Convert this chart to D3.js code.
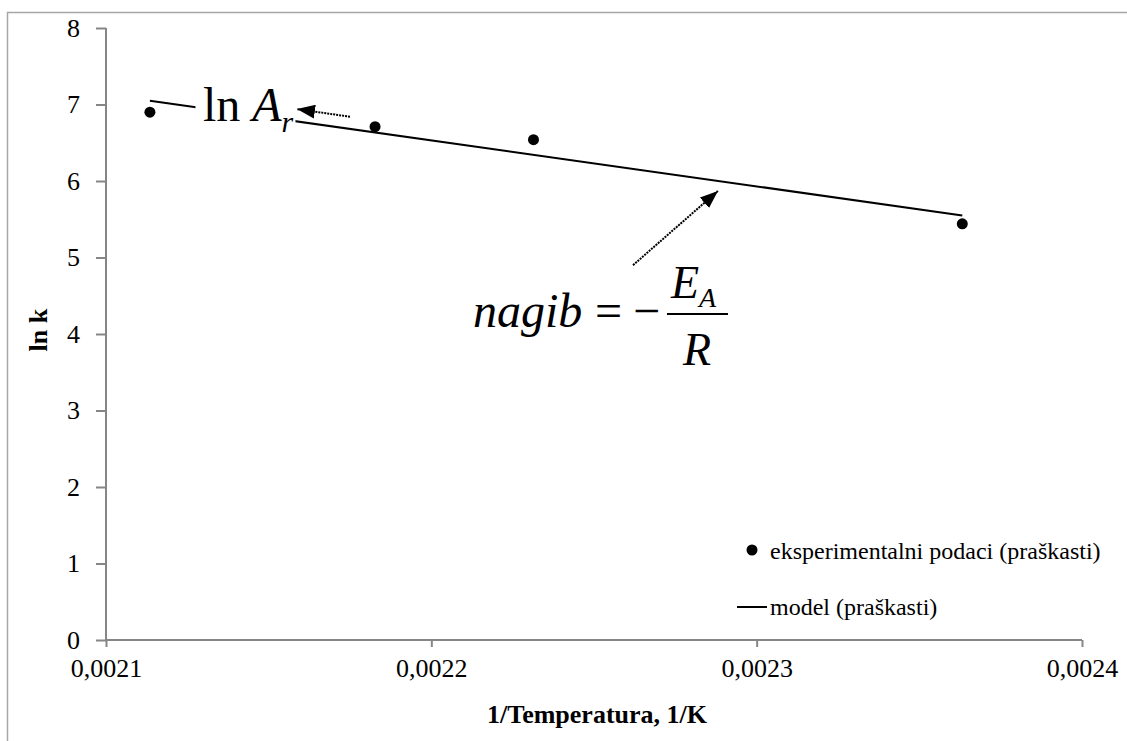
<!DOCTYPE html>
<html lang="en">
<head>
	<meta charset="utf-8">
	<title>ln k vs 1/T</title>
	<script src="https://cdn.jsdelivr.net/npm/d3@7"></script>
	<style>
		body { margin: 0; background: #fff; }
		text { font-family: "Liberation Serif", "DejaVu Serif", serif; fill: #000; }
		.axis path, .axis line { stroke: #868686; stroke-width: 2; }
		.axis text { font-size: 26px; font-family: "Liberation Serif", serif; }
		.title { font-size: 26px; font-weight: bold; }
		.legend { font-size: 24px; }
		.eq { font-style: italic; font-size: 48px; }
	</style>
</head>
<body>
	<div id="chart"></div>

	<script>
		// data
		var invT = [0.0021135, 0.0021827, 0.0022314, 0.0023632];   // 1/K
		var lnk = [6.90, 6.71, 6.54, 5.44];
		var modelX = [0.0021135, 0.0023632];
		var modelY = [7.05, 5.55];
		var xTicks = [0.0021, 0.0022, 0.0023, 0.0024];
		var yTicks = [0, 1, 2, 3, 4, 5, 6, 7, 8];
		var legendLabels = ["eksperimentalni podaci (praškasti)", "model (praškasti)"];

		var w = 1127,
		    h = 741;

		var svg = d3.select("#chart")
			.append("svg")
			.attr("width", w)
			.attr("height", h);

		var defs = svg.append("defs");
		defs.append("marker")
			.attr("id", "head")
			.attr("viewBox", "0 0 18 14")
			.attr("refX", 18).attr("refY", 7)
			.attr("markerWidth", 18).attr("markerHeight", 14)
			.attr("markerUnits", "userSpaceOnUse")
			.attr("orient", "auto")
			.append("path")
			.attr("d", "M0,0 L18,7 L0,14 Z")
			.attr("fill", "#000");

		// outer frame (only left + top show in the picture)
		svg.append("path")
			.attr("d", "M7.5," + h + " V12.5 H" + w)
			.attr("fill", "none")
			.attr("stroke", "#a6a6a6")
			.attr("stroke-width", 1.5);

		var x = d3.scaleLinear().domain([0.0021, 0.0024]).range([106, 1082]);
		var y = d3.scaleLinear().domain([0, 8]).range([640, 28]);

		var fmt = function(d) { return d3.format(".4f")(d).replace(".", ","); };

		// axes
		var gx = svg.append("g")
			.attr("class", "axis")
			.attr("transform", "translate(0," + y(0) + ")")
			.call(d3.axisBottom(x).tickValues(xTicks).tickFormat(fmt).tickSize(7).tickSizeOuter(0).tickPadding(12));

		var gy = svg.append("g")
			.attr("class", "axis")
			.attr("transform", "translate(" + x(0.0021) + ",0)")
			.call(d3.axisLeft(y).tickValues(yTicks).tickSize(10).tickSizeOuter(0).tickPadding(16));

		gx.select(".domain").attr("d", "M" + x(0.0021) + ",0 H" + x(0.0024));
		gy.select(".domain").attr("d", "M0," + y(0) + " V" + y(8));
		gx.selectAll("text").attr("fill", "#000");
		gy.selectAll("text").attr("fill", "#000");

		// axis titles
		svg.append("text")
			.attr("class", "title")
			.attr("x", 597).attr("y", 723)
			.attr("text-anchor", "middle")
			.text("1/Temperatura, 1/K");

		svg.append("text")
			.attr("class", "title")
			.attr("transform", "translate(47," + y(4.05) + ") rotate(-90)")
			.attr("text-anchor", "middle")
			.text("ln k");

		// model line
		var line = d3.line()
			.x(function(d) { return x(d[0]); })
			.y(function(d) { return y(d[1]); });

		svg.append("path")
			.datum(d3.zip(modelX, modelY))
			.attr("d", line)
			.attr("fill", "none")
			.attr("stroke", "#000")
			.attr("stroke-width", 2);

		// points
		svg.selectAll(".pt")
			.data(d3.zip(invT, lnk))
			.enter()
			.append("circle")
			.attr("class", "pt")
			.attr("cx", function(d) { return x(d[0]); })
			.attr("cy", function(d) { return y(d[1]); })
			.attr("r", 5.5)
			.attr("fill", "#000");

		// annotation: ln A_r (white box hides the line behind it)
		svg.append("rect")
			.attr("x", x(0.0021275)).attr("y", y(7.45))
			.attr("width", 100).attr("height", 55)
			.attr("fill", "#fff");

		var lnA = svg.append("text")
			.attr("x", x(0.0021298)).attr("y", y(6.78))
			.style("font-size", "48px");
		lnA.append("tspan").text("ln ");
		lnA.append("tspan").style("font-style", "italic").text("A");
		lnA.append("tspan").style("font-style", "italic").style("font-size", "30px")
			.attr("dy", 11).text("r");

		svg.append("line")
			.attr("x1", x(0.002175)).attr("y1", y(6.84))
			.attr("x2", x(0.0021587)).attr("y2", y(6.94))
			.attr("stroke", "#000")
			.attr("stroke-width", 2)
			.attr("stroke-dasharray", "2,1")
			.attr("marker-end", "url(#head)");

		// annotation: slope
		svg.append("line")
			.attr("x1", x(0.002262)).attr("y1", y(4.90))
			.attr("x2", x(0.0022881)).attr("y2", y(5.87))
			.attr("stroke", "#000")
			.attr("stroke-width", 2)
			.attr("stroke-dasharray", "2,1")
			.attr("marker-end", "url(#head)");

		var ex = x(0.0022128), ey = y(4.09);
		svg.append("text").attr("class", "eq").attr("x", ex).attr("y", ey).text("nagib");
		svg.append("text").style("font-size", "48px").attr("x", ex + 122).attr("y", ey).text("=");
		svg.append("text").style("font-size", "48px").attr("x", ex + 160).attr("y", ey).text("\u2212");
		svg.append("line")
			.attr("x1", ex + 194).attr("x2", ex + 255)
			.attr("y1", ey - 13).attr("y2", ey - 13)
			.attr("stroke", "#000").attr("stroke-width", 2);
		var num = svg.append("text").attr("class", "eq").attr("x", ex + 198).attr("y", ey - 29).style("font-size", "46px");
		num.append("tspan").text("E");
		num.append("tspan").style("font-size", "28px").attr("dy", 9).text("A");
		svg.append("text").attr("class", "eq").attr("x", ex + 210).attr("y", ey + 38).style("font-size", "46px").text("R");

		// legend
		var lg = svg.append("g");
		lg.append("circle")
			.attr("cx", 752).attr("cy", 550)
			.attr("r", 5.5)
			.attr("fill", "#000");
		lg.append("line")
			.attr("x1", 737).attr("x2", 767)
			.attr("y1", 607).attr("y2", 607)
			.attr("stroke", "#000").attr("stroke-width", 2);
		lg.selectAll("text")
			.data(legendLabels)
			.enter()
			.append("text")
			.attr("class", "legend")
			.attr("x", 770)
			.attr("y", function(d, i) { return 559 + i * 56; })
			.text(function(d) { return d; });
	</script>
</body>
</html>
